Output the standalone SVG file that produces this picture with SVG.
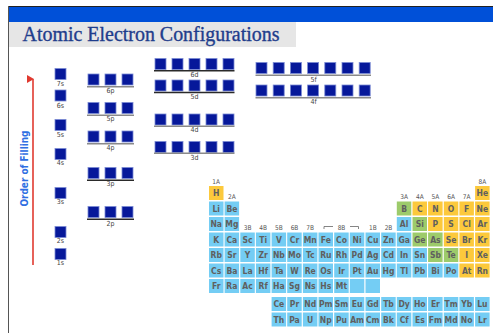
<svg xmlns="http://www.w3.org/2000/svg" width="493" height="333" viewBox="0 0 493 333">
<defs>
<style>
.o{fill:#06189a;stroke:#7b8ad4;stroke-width:0.8}
.lg{stroke:#8a8a8a;stroke-width:1.4}
.ld{stroke:#2a2a2a;stroke-width:1.4}
.ol{font-family:"DejaVu Sans Condensed","DejaVu Sans",sans-serif;font-size:7px;fill:#444;text-anchor:middle}
.b{fill:#74cdf4}
.y{fill:#fcc93c}
.g{fill:#9dcb6b}
.el{font-family:"DejaVu Sans Condensed","DejaVu Sans",sans-serif;font-weight:bold;font-size:8.5px;fill:#5f5f5f;text-anchor:middle}
.gl{font-family:"DejaVu Sans Condensed","DejaVu Sans",sans-serif;font-size:6.5px;fill:#555;text-anchor:middle}
</style>
<marker id="ah" markerWidth="8" markerHeight="8" refX="4" refY="1" orient="auto" markerUnits="userSpaceOnUse" viewBox="0 0 8 8">
<path d="M0,7 L4,0 L8,7 Z" fill="#e03a30"/>
</marker>
</defs>
<rect width="493" height="333" fill="#ffffff"/>
<g id="header">
<line x1="8" y1="6.5" x2="493" y2="6.5" stroke="#222" stroke-width="1"/>
<rect x="8" y="7" width="485" height="15" fill="#0050d8"/>
<rect x="9" y="22" width="287" height="25" fill="#e6e6e6"/>
<line x1="8.5" y1="6" x2="8.5" y2="333" stroke="#555" stroke-width="1"/>
<text x="22.5" y="40.5" font-family="Liberation Serif,serif" font-size="20" fill="#1f3d8c" stroke="#1f3d8c" stroke-width="0.35" textLength="257" lengthAdjust="spacingAndGlyphs">Atomic Electron Configurations</text>
</g>
<g id="connectors">
<line x1="33" y1="79" x2="33" y2="265" stroke="#e03a30" stroke-width="1.6" marker-start="url(#ah)"/>
</g>
<text x="0" y="0" transform="translate(27.5,168.5) rotate(-90)" font-family="DejaVu Sans Condensed,DejaVu Sans,sans-serif" font-weight="bold" font-size="10" fill="#2f6fe2" text-anchor="middle" textLength="76" lengthAdjust="spacingAndGlyphs">Order of Filling</text>
<g id="s-orbitals">
<rect class="o" x="55" y="68.5" width="11" height="11"/><text class="ol" x="60.5" y="86">7s</text>
<rect class="o" x="55" y="90" width="11" height="11"/><text class="ol" x="60.5" y="107.5">6s</text>
<rect class="o" x="55" y="119.5" width="11" height="11"/><text class="ol" x="60.5" y="137">5s</text>
<rect class="o" x="55" y="148.5" width="11" height="11"/><text class="ol" x="60.5" y="165">4s</text>
<rect class="o" x="55" y="187.5" width="11" height="11"/><text class="ol" x="60.5" y="204">3s</text>
<rect class="o" x="55" y="226.5" width="11" height="11"/><text class="ol" x="60.5" y="243">2s</text>
<rect class="o" x="55" y="248.5" width="11" height="11"/><text class="ol" x="60.5" y="264.5">1s</text>
</g>
<g id="p-orbitals">
<g id="p6"><rect class="o" x="88" y="74" width="11" height="11"/><rect class="o" x="105" y="74" width="11" height="11"/><rect class="o" x="122" y="74" width="11" height="11"/><line class="lg" x1="87" y1="86.7" x2="134" y2="86.7"/><text class="ol" x="110.5" y="92.8">6p</text></g>
<g id="p5"><rect class="o" x="88" y="102.5" width="11" height="11"/><rect class="o" x="105" y="102.5" width="11" height="11"/><rect class="o" x="122" y="102.5" width="11" height="11"/><line class="lg" x1="87" y1="115.2" x2="134" y2="115.2"/><text class="ol" x="110.5" y="121.3">5p</text></g>
<g id="p4"><rect class="o" x="88" y="131" width="11" height="11"/><rect class="o" x="105" y="131" width="11" height="11"/><rect class="o" x="122" y="131" width="11" height="11"/><line class="lg" x1="87" y1="143.7" x2="134" y2="143.7"/><text class="ol" x="110.5" y="149.8">4p</text></g>
<g id="p3"><rect class="o" x="88" y="167.5" width="11" height="11"/><rect class="o" x="105" y="167.5" width="11" height="11"/><rect class="o" x="122" y="167.5" width="11" height="11"/><line class="ld" x1="87" y1="180.2" x2="134" y2="180.2"/><text class="ol" x="110.5" y="186.3">3p</text></g>
<g id="p2"><rect class="o" x="88" y="206.5" width="11" height="11"/><rect class="o" x="105" y="206.5" width="11" height="11"/><rect class="o" x="122" y="206.5" width="11" height="11"/><line class="ld" x1="87" y1="219.2" x2="134" y2="219.2"/><text class="ol" x="110.5" y="225.5">2p</text></g>
</g>
<g id="d-orbitals">
<g id="d6"><rect class="o" x="155" y="58.5" width="11" height="11"/><rect class="o" x="172" y="58.5" width="11" height="11"/><rect class="o" x="189" y="58.5" width="11" height="11"/><rect class="o" x="206" y="58.5" width="11" height="11"/><rect class="o" x="223" y="58.5" width="11" height="11"/><line class="ld" x1="154" y1="70.8" x2="234.5" y2="70.8"/><text class="ol" x="194.5" y="77">6d</text></g>
<g id="d5"><rect class="o" x="155" y="80" width="11" height="11"/><rect class="o" x="172" y="80" width="11" height="11"/><rect class="o" x="189" y="80" width="11" height="11"/><rect class="o" x="206" y="80" width="11" height="11"/><rect class="o" x="223" y="80" width="11" height="11"/><line class="ld" x1="154" y1="92.5" x2="234.5" y2="92.5"/><text class="ol" x="194.5" y="98.8">5d</text></g>
<g id="d4"><rect class="o" x="155" y="114" width="11" height="11"/><rect class="o" x="172" y="114" width="11" height="11"/><rect class="o" x="189" y="114" width="11" height="11"/><rect class="o" x="206" y="114" width="11" height="11"/><rect class="o" x="223" y="114" width="11" height="11"/><line class="lg" x1="154" y1="126.2" x2="234.5" y2="126.2"/><text class="ol" x="194.5" y="132.3">4d</text></g>
<g id="d3"><rect class="o" x="155" y="141.5" width="11" height="11"/><rect class="o" x="172" y="141.5" width="11" height="11"/><rect class="o" x="189" y="141.5" width="11" height="11"/><rect class="o" x="206" y="141.5" width="11" height="11"/><rect class="o" x="223" y="141.5" width="11" height="11"/><line class="lg" x1="154" y1="153.3" x2="234.5" y2="153.3"/><text class="ol" x="194.5" y="160.3">3d</text></g>
</g>
<g id="f-orbitals">
<g id="f5"><rect class="o" x="256" y="62.5" width="11" height="11"/><rect class="o" x="273.2" y="62.5" width="11" height="11"/><rect class="o" x="290.4" y="62.5" width="11" height="11"/><rect class="o" x="307.6" y="62.5" width="11" height="11"/><rect class="o" x="324.8" y="62.5" width="11" height="11"/><rect class="o" x="342" y="62.5" width="11" height="11"/><rect class="o" x="359.2" y="62.5" width="11" height="11"/><line class="lg" x1="255.5" y1="75.3" x2="371" y2="75.3"/><text class="ol" x="313.5" y="82">5f</text></g>
<g id="f4"><rect class="o" x="256" y="85" width="11" height="11"/><rect class="o" x="273.2" y="85" width="11" height="11"/><rect class="o" x="290.4" y="85" width="11" height="11"/><rect class="o" x="307.6" y="85" width="11" height="11"/><rect class="o" x="324.8" y="85" width="11" height="11"/><rect class="o" x="342" y="85" width="11" height="11"/><rect class="o" x="359.2" y="85" width="11" height="11"/><line class="lg" x1="255.5" y1="97.7" x2="371" y2="97.7"/><text class="ol" x="313.5" y="104.3">4f</text></g>
</g>
<g id="group-labels">
<text class="gl" x="216.2" y="183.5">1A</text>
<text class="gl" x="231.9" y="199">2A</text>
<text class="gl" x="247.6" y="230">3B</text>
<text class="gl" x="263.2" y="230">4B</text>
<text class="gl" x="278.9" y="230">5B</text>
<text class="gl" x="294.5" y="230">6B</text>
<text class="gl" x="310.2" y="230">7B</text>
<text class="gl" x="341.5" y="230">8B</text>
<path d="M324,229 V226.5 H333 M350,226.5 H358.5 V229" fill="none" stroke="#666" stroke-width="0.8"/>
<text class="gl" x="372.8" y="230">1B</text>
<text class="gl" x="388.5" y="230">2B</text>
<text class="gl" x="404.1" y="199">3A</text>
<text class="gl" x="419.8" y="199">4A</text>
<text class="gl" x="435.4" y="199">5A</text>
<text class="gl" x="451.1" y="199">6A</text>
<text class="gl" x="466.7" y="199">7A</text>
<text class="gl" x="482.4" y="183.5">8A</text>
</g>
<g id="periodic-table">
<g id="row1"><rect class="y" x="209" y="186" width="14.5" height="14"/><text class="el" x="216.2" y="196.3">H</text><rect class="y" x="475.1" y="186" width="14.5" height="14"/><text class="el" x="482.4" y="196.3">He</text></g>
<g id="row2">
<rect class="b" x="209" y="201.5" width="14.5" height="14"/><text class="el" x="216.2" y="211.8">Li</text>
<rect class="b" x="224.6" y="201.5" width="14.5" height="14"/><text class="el" x="231.9" y="211.8">Be</text>
<rect class="g" x="396.8" y="201.5" width="14.5" height="14"/><text class="el" x="404.1" y="211.8">B</text>
<rect class="y" x="412.5" y="201.5" width="14.5" height="14"/><text class="el" x="419.8" y="211.8">C</text>
<rect class="y" x="428.1" y="201.5" width="14.5" height="14"/><text class="el" x="435.4" y="211.8">N</text>
<rect class="y" x="443.8" y="201.5" width="14.5" height="14"/><text class="el" x="451.1" y="211.8">O</text>
<rect class="y" x="459.4" y="201.5" width="14.5" height="14"/><text class="el" x="466.7" y="211.8">F</text>
<rect class="y" x="475.1" y="201.5" width="14.5" height="14"/><text class="el" x="482.4" y="211.8">Ne</text>
</g>
<g id="row3">
<rect class="b" x="209" y="217" width="14.5" height="14"/><text class="el" x="216.2" y="227.3">Na</text>
<rect class="b" x="224.6" y="217" width="14.5" height="14"/><text class="el" x="231.9" y="227.3">Mg</text>
<rect class="b" x="396.8" y="217" width="14.5" height="14"/><text class="el" x="404.1" y="227.3">Al</text>
<rect class="g" x="412.5" y="217" width="14.5" height="14"/><text class="el" x="419.8" y="227.3">Si</text>
<rect class="y" x="428.1" y="217" width="14.5" height="14"/><text class="el" x="435.4" y="227.3">P</text>
<rect class="y" x="443.8" y="217" width="14.5" height="14"/><text class="el" x="451.1" y="227.3">S</text>
<rect class="y" x="459.4" y="217" width="14.5" height="14"/><text class="el" x="466.7" y="227.3">Cl</text>
<rect class="y" x="475.1" y="217" width="14.5" height="14"/><text class="el" x="482.4" y="227.3">Ar</text>
</g>
<g id="row4">
<rect class="b" x="209" y="232.5" width="14.5" height="14"/><text class="el" x="216.2" y="242.8">K</text>
<rect class="b" x="224.6" y="232.5" width="14.5" height="14"/><text class="el" x="231.9" y="242.8">Ca</text>
<rect class="b" x="240.3" y="232.5" width="14.5" height="14"/><text class="el" x="247.6" y="242.8">Sc</text>
<rect class="b" x="255.9" y="232.5" width="14.5" height="14"/><text class="el" x="263.2" y="242.8">Ti</text>
<rect class="b" x="271.6" y="232.5" width="14.5" height="14"/><text class="el" x="278.9" y="242.8">V</text>
<rect class="b" x="287.2" y="232.5" width="14.5" height="14"/><text class="el" x="294.5" y="242.8">Cr</text>
<rect class="b" x="302.9" y="232.5" width="14.5" height="14"/><text class="el" x="310.2" y="242.8">Mn</text>
<rect class="b" x="318.5" y="232.5" width="14.5" height="14"/><text class="el" x="325.8" y="242.8">Fe</text>
<rect class="b" x="334.2" y="232.5" width="14.5" height="14"/><text class="el" x="341.5" y="242.8">Co</text>
<rect class="b" x="349.8" y="232.5" width="14.5" height="14"/><text class="el" x="357.1" y="242.8">Ni</text>
<rect class="b" x="365.5" y="232.5" width="14.5" height="14"/><text class="el" x="372.8" y="242.8">Cu</text>
<rect class="b" x="381.2" y="232.5" width="14.5" height="14"/><text class="el" x="388.5" y="242.8">Zn</text>
<rect class="b" x="396.8" y="232.5" width="14.5" height="14"/><text class="el" x="404.1" y="242.8">Ga</text>
<rect class="g" x="412.5" y="232.5" width="14.5" height="14"/><text class="el" x="419.8" y="242.8">Ge</text>
<rect class="g" x="428.1" y="232.5" width="14.5" height="14"/><text class="el" x="435.4" y="242.8">As</text>
<rect class="y" x="443.8" y="232.5" width="14.5" height="14"/><text class="el" x="451.1" y="242.8">Se</text>
<rect class="y" x="459.4" y="232.5" width="14.5" height="14"/><text class="el" x="466.7" y="242.8">Br</text>
<rect class="y" x="475.1" y="232.5" width="14.5" height="14"/><text class="el" x="482.4" y="242.8">Kr</text>
</g>
<g id="row5">
<rect class="b" x="209" y="248" width="14.5" height="14"/><text class="el" x="216.2" y="258.3">Rb</text>
<rect class="b" x="224.6" y="248" width="14.5" height="14"/><text class="el" x="231.9" y="258.3">Sr</text>
<rect class="b" x="240.3" y="248" width="14.5" height="14"/><text class="el" x="247.6" y="258.3">Y</text>
<rect class="b" x="255.9" y="248" width="14.5" height="14"/><text class="el" x="263.2" y="258.3">Zr</text>
<rect class="b" x="271.6" y="248" width="14.5" height="14"/><text class="el" x="278.9" y="258.3">Nb</text>
<rect class="b" x="287.2" y="248" width="14.5" height="14"/><text class="el" x="294.5" y="258.3">Mo</text>
<rect class="b" x="302.9" y="248" width="14.5" height="14"/><text class="el" x="310.2" y="258.3">Tc</text>
<rect class="b" x="318.5" y="248" width="14.5" height="14"/><text class="el" x="325.8" y="258.3">Ru</text>
<rect class="b" x="334.2" y="248" width="14.5" height="14"/><text class="el" x="341.5" y="258.3">Rh</text>
<rect class="b" x="349.8" y="248" width="14.5" height="14"/><text class="el" x="357.1" y="258.3">Pd</text>
<rect class="b" x="365.5" y="248" width="14.5" height="14"/><text class="el" x="372.8" y="258.3">Ag</text>
<rect class="b" x="381.2" y="248" width="14.5" height="14"/><text class="el" x="388.5" y="258.3">Cd</text>
<rect class="b" x="396.8" y="248" width="14.5" height="14"/><text class="el" x="404.1" y="258.3">In</text>
<rect class="b" x="412.5" y="248" width="14.5" height="14"/><text class="el" x="419.8" y="258.3">Sn</text>
<rect class="g" x="428.1" y="248" width="14.5" height="14"/><text class="el" x="435.4" y="258.3">Sb</text>
<rect class="g" x="443.8" y="248" width="14.5" height="14"/><text class="el" x="451.1" y="258.3">Te</text>
<rect class="y" x="459.4" y="248" width="14.5" height="14"/><text class="el" x="466.7" y="258.3">I</text>
<rect class="y" x="475.1" y="248" width="14.5" height="14"/><text class="el" x="482.4" y="258.3">Xe</text>
</g>
<g id="row6">
<rect class="b" x="209" y="263.5" width="14.5" height="14"/><text class="el" x="216.2" y="273.8">Cs</text>
<rect class="b" x="224.6" y="263.5" width="14.5" height="14"/><text class="el" x="231.9" y="273.8">Ba</text>
<rect class="b" x="240.3" y="263.5" width="14.5" height="14"/><text class="el" x="247.6" y="273.8">La</text>
<rect class="b" x="255.9" y="263.5" width="14.5" height="14"/><text class="el" x="263.2" y="273.8">Hf</text>
<rect class="b" x="271.6" y="263.5" width="14.5" height="14"/><text class="el" x="278.9" y="273.8">Ta</text>
<rect class="b" x="287.2" y="263.5" width="14.5" height="14"/><text class="el" x="294.5" y="273.8">W</text>
<rect class="b" x="302.9" y="263.5" width="14.5" height="14"/><text class="el" x="310.2" y="273.8">Re</text>
<rect class="b" x="318.5" y="263.5" width="14.5" height="14"/><text class="el" x="325.8" y="273.8">Os</text>
<rect class="b" x="334.2" y="263.5" width="14.5" height="14"/><text class="el" x="341.5" y="273.8">Ir</text>
<rect class="b" x="349.8" y="263.5" width="14.5" height="14"/><text class="el" x="357.1" y="273.8">Pt</text>
<rect class="b" x="365.5" y="263.5" width="14.5" height="14"/><text class="el" x="372.8" y="273.8">Au</text>
<rect class="b" x="381.2" y="263.5" width="14.5" height="14"/><text class="el" x="388.5" y="273.8">Hg</text>
<rect class="b" x="396.8" y="263.5" width="14.5" height="14"/><text class="el" x="404.1" y="273.8">Tl</text>
<rect class="b" x="412.5" y="263.5" width="14.5" height="14"/><text class="el" x="419.8" y="273.8">Pb</text>
<rect class="b" x="428.1" y="263.5" width="14.5" height="14"/><text class="el" x="435.4" y="273.8">Bi</text>
<rect class="b" x="443.8" y="263.5" width="14.5" height="14"/><text class="el" x="451.1" y="273.8">Po</text>
<rect class="y" x="459.4" y="263.5" width="14.5" height="14"/><text class="el" x="466.7" y="273.8">At</text>
<rect class="y" x="475.1" y="263.5" width="14.5" height="14"/><text class="el" x="482.4" y="273.8">Rn</text>
</g>
<g id="row7">
<rect class="b" x="209" y="279" width="14.5" height="14"/><text class="el" x="216.2" y="289.3">Fr</text>
<rect class="b" x="224.6" y="279" width="14.5" height="14"/><text class="el" x="231.9" y="289.3">Ra</text>
<rect class="b" x="240.3" y="279" width="14.5" height="14"/><text class="el" x="247.6" y="289.3">Ac</text>
<rect class="b" x="255.9" y="279" width="14.5" height="14"/><text class="el" x="263.2" y="289.3">Rf</text>
<rect class="b" x="271.6" y="279" width="14.5" height="14"/><text class="el" x="278.9" y="289.3">Ha</text>
<rect class="b" x="287.2" y="279" width="14.5" height="14"/><text class="el" x="294.5" y="289.3">Sg</text>
<rect class="b" x="302.9" y="279" width="14.5" height="14"/><text class="el" x="310.2" y="289.3">Ns</text>
<rect class="b" x="318.5" y="279" width="14.5" height="14"/><text class="el" x="325.8" y="289.3">Hs</text>
<rect class="b" x="334.2" y="279" width="14.5" height="14"/><text class="el" x="341.5" y="289.3">Mt</text>
<rect class="b" x="349.8" y="279" width="14.5" height="14"/>
<rect class="b" x="365.5" y="279" width="14.5" height="14"/>
</g>
<g id="lanthanides">
<rect class="b" x="271.6" y="297" width="14.5" height="14"/><text class="el" x="278.9" y="307.3">Ce</text>
<rect class="b" x="287.2" y="297" width="14.5" height="14"/><text class="el" x="294.5" y="307.3">Pr</text>
<rect class="b" x="302.9" y="297" width="14.5" height="14"/><text class="el" x="310.2" y="307.3">Nd</text>
<rect class="b" x="318.5" y="297" width="14.5" height="14"/><text class="el" x="325.8" y="307.3">Pm</text>
<rect class="b" x="334.2" y="297" width="14.5" height="14"/><text class="el" x="341.5" y="307.3">Sm</text>
<rect class="b" x="349.8" y="297" width="14.5" height="14"/><text class="el" x="357.1" y="307.3">Eu</text>
<rect class="b" x="365.5" y="297" width="14.5" height="14"/><text class="el" x="372.8" y="307.3">Gd</text>
<rect class="b" x="381.2" y="297" width="14.5" height="14"/><text class="el" x="388.5" y="307.3">Tb</text>
<rect class="b" x="396.8" y="297" width="14.5" height="14"/><text class="el" x="404.1" y="307.3">Dy</text>
<rect class="b" x="412.5" y="297" width="14.5" height="14"/><text class="el" x="419.8" y="307.3">Ho</text>
<rect class="b" x="428.1" y="297" width="14.5" height="14"/><text class="el" x="435.4" y="307.3">Er</text>
<rect class="b" x="443.8" y="297" width="14.5" height="14"/><text class="el" x="451.1" y="307.3">Tm</text>
<rect class="b" x="459.4" y="297" width="14.5" height="14"/><text class="el" x="466.7" y="307.3">Yb</text>
<rect class="b" x="475.1" y="297" width="14.5" height="14"/><text class="el" x="482.4" y="307.3">Lu</text>
</g>
<g id="actinides">
<rect class="b" x="271.6" y="312.5" width="14.5" height="14"/><text class="el" x="278.9" y="322.8">Th</text>
<rect class="b" x="287.2" y="312.5" width="14.5" height="14"/><text class="el" x="294.5" y="322.8">Pa</text>
<rect class="b" x="302.9" y="312.5" width="14.5" height="14"/><text class="el" x="310.2" y="322.8">U</text>
<rect class="b" x="318.5" y="312.5" width="14.5" height="14"/><text class="el" x="325.8" y="322.8">Np</text>
<rect class="b" x="334.2" y="312.5" width="14.5" height="14"/><text class="el" x="341.5" y="322.8">Pu</text>
<rect class="b" x="349.8" y="312.5" width="14.5" height="14"/><text class="el" x="357.1" y="322.8">Am</text>
<rect class="b" x="365.5" y="312.5" width="14.5" height="14"/><text class="el" x="372.8" y="322.8">Cm</text>
<rect class="b" x="381.2" y="312.5" width="14.5" height="14"/><text class="el" x="388.5" y="322.8">Bk</text>
<rect class="b" x="396.8" y="312.5" width="14.5" height="14"/><text class="el" x="404.1" y="322.8">Cf</text>
<rect class="b" x="412.5" y="312.5" width="14.5" height="14"/><text class="el" x="419.8" y="322.8">Es</text>
<rect class="b" x="428.1" y="312.5" width="14.5" height="14"/><text class="el" x="435.4" y="322.8">Fm</text>
<rect class="b" x="443.8" y="312.5" width="14.5" height="14"/><text class="el" x="451.1" y="322.8">Md</text>
<rect class="b" x="459.4" y="312.5" width="14.5" height="14"/><text class="el" x="466.7" y="322.8">No</text>
<rect class="b" x="475.1" y="312.5" width="14.5" height="14"/><text class="el" x="482.4" y="322.8">Lr</text>
</g>
</g>
</svg>
